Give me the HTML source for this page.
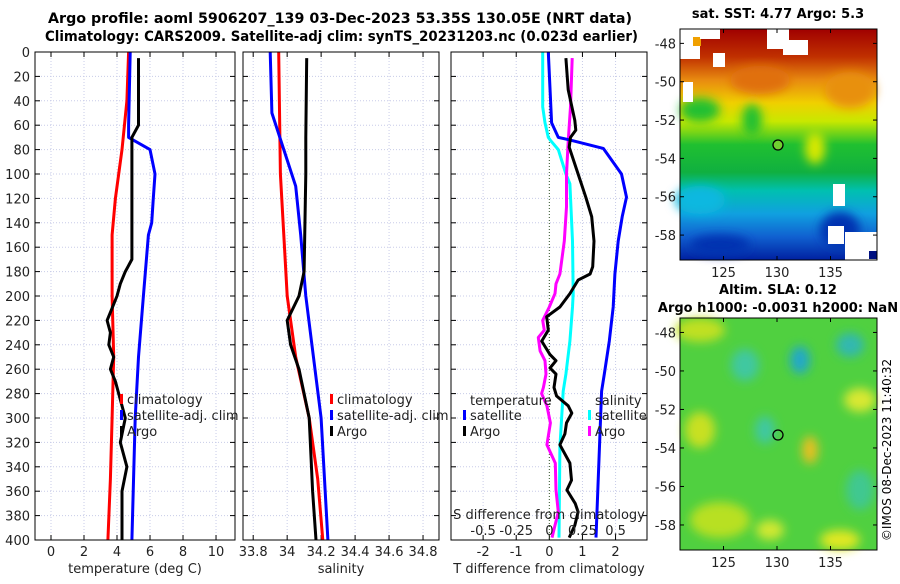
<!DOCTYPE html>
<html><head><meta charset="utf-8"><style>
body{margin:0;background:#fff;width:900px;height:580px;overflow:hidden;font-family:"DejaVu Sans","Liberation Sans",sans-serif}
svg text{font-family:"DejaVu Sans","Liberation Sans",sans-serif}
</style></head><body>
<svg id="fig" width="900" height="580" viewBox="0 0 900 580" xmlns="http://www.w3.org/2000/svg">
<defs>
<linearGradient id="sstg" x1="0" y1="0" x2="0" y2="1">
<stop offset="0" stop-color="#a00000"/><stop offset="0.12" stop-color="#c03000"/><stop offset="0.22" stop-color="#e88a10"/><stop offset="0.32" stop-color="#f0d000"/><stop offset="0.40" stop-color="#c8e800"/><stop offset="0.50" stop-color="#20c030"/><stop offset="0.62" stop-color="#10b040"/><stop offset="0.70" stop-color="#00c0b0"/><stop offset="0.80" stop-color="#10a0e0"/><stop offset="0.90" stop-color="#1060d0"/><stop offset="1" stop-color="#0020a0"/>
</linearGradient>
<filter id="bl"><feGaussianBlur stdDeviation="5"/></filter>
</defs>
<g id="titles">
<text x="48" y="23" font-size="14" font-weight="bold" textLength="584" lengthAdjust="spacingAndGlyphs">Argo profile: aoml 5906207_139 03-Dec-2023 53.35S 130.05E (NRT data)</text>
<text x="45" y="41" font-size="14" font-weight="bold" textLength="593" lengthAdjust="spacingAndGlyphs">Climatology: CARS2009. Satellite-adj clim: synTS_20231203.nc (0.023d earlier)</text>
</g>
<g id="p1"></g>
<g id="p2"></g>
<g id="p3"></g>
<g id="m1">
<text x="778" y="18" text-anchor="middle" font-size="13" font-weight="bold">sat. SST: 4.77 Argo: 5.3</text>
<rect x="680" y="29" width="197" height="231" fill="url(#sstg)"/>
<g filter="url(#bl)">
<ellipse cx="760" cy="80" rx="30" ry="14" fill="#e07010"/>
<ellipse cx="850" cy="90" rx="25" ry="18" fill="#e89010"/>
<ellipse cx="700" cy="110" rx="20" ry="12" fill="#20c030"/>
<ellipse cx="752" cy="120" rx="10" ry="16" fill="#20c030"/>
<ellipse cx="815" cy="148" rx="10" ry="16" fill="#d8e800"/>
<ellipse cx="700" cy="200" rx="25" ry="14" fill="#10b8e0"/>
<ellipse cx="840" cy="230" rx="20" ry="18" fill="#0030b0"/>
<ellipse cx="720" cy="245" rx="30" ry="10" fill="#0030b0"/>
</g>
<rect x="680" y="29" width="20" height="30" fill="#fff"/><rect x="693" y="37" width="8" height="9" fill="#f0a000"/>
<rect x="700" y="29" width="20" height="10" fill="#fff"/><rect x="767" y="29" width="22" height="20" fill="#fff"/>
<rect x="783" y="40" width="25" height="15" fill="#fff"/><rect x="713" y="53" width="12" height="14" fill="#fff"/>
<rect x="683" y="82" width="10" height="20" fill="#fff"/>
<rect x="833" y="184" width="12" height="22" fill="#fff"/><rect x="828" y="226" width="16" height="18" fill="#fff"/>
<rect x="845" y="232" width="32" height="28" fill="#fff"/><rect x="869" y="251" width="8" height="8" fill="#001080"/>
<circle cx="778" cy="145" r="5" fill="#70d030" stroke="#000" stroke-width="1.3"/>
<rect x="680" y="29" width="197" height="231" fill="none" stroke="#000" stroke-width="1"/>
</g>
<g id="m2">
<text x="778" y="294" text-anchor="middle" font-size="13" font-weight="bold">Altim. SLA: 0.12</text>
<text x="778" y="312" text-anchor="middle" font-size="13" font-weight="bold">Argo h1000: -0.0031 h2000: NaN</text>
<rect x="680" y="318" width="197" height="232" fill="#50d040"/>
<g filter="url(#bl)">
<ellipse cx="700" cy="330" rx="25" ry="12" fill="#c0e020"/>
<ellipse cx="745" cy="365" rx="14" ry="16" fill="#40c8a0"/>
<ellipse cx="800" cy="360" rx="10" ry="14" fill="#20a8c8"/>
<ellipse cx="850" cy="345" rx="14" ry="12" fill="#30b8b0"/>
<ellipse cx="860" cy="400" rx="16" ry="12" fill="#d8e830"/>
<ellipse cx="700" cy="430" rx="15" ry="18" fill="#c8e020"/>
<ellipse cx="765" cy="430" rx="10" ry="14" fill="#40c8a0"/>
<ellipse cx="810" cy="450" rx="8" ry="14" fill="#e8c020"/>
<ellipse cx="860" cy="490" rx="14" ry="20" fill="#40c890"/>
<ellipse cx="720" cy="520" rx="30" ry="18" fill="#b8e020"/>
<ellipse cx="770" cy="530" rx="14" ry="10" fill="#d0e830"/>
<ellipse cx="840" cy="540" rx="20" ry="10" fill="#e0e820"/>
</g>
<circle cx="778" cy="435" r="5" fill="none" stroke="#000" stroke-width="1.3"/>
<rect x="680" y="318" width="197" height="232" fill="none" stroke="#000" stroke-width="1"/>
</g>
<text transform="translate(891,450) rotate(-90)" text-anchor="middle" font-size="12">©IMOS 08-Dec-2023 11:40:32</text>
</svg>
<script>
const NS="http://www.w3.org/2000/svg";
// ---- data ----
const yTicks=[0,20,40,60,80,100,120,140,160,180,200,220,240,260,280,300,320,340,360,380,400];
const tTicks=[0,2,4,6,8,10];
const sTicks=[33.8,34,34.2,34.4,34.6,34.8];
const dTTicks=[-2,-1,0,1,2];
const dSTicks=[-0.5,-0.25,0,0.25,0.5];
const dSLabels=["-0.5","-0.25","0","0.25","0.5"];
const tClimDepth=[0,40,80,100,120,150,200,250,300,350,400];
const tClimVal=[4.7,4.6,4.3,4.1,3.9,3.7,3.7,3.8,3.7,3.6,3.45];
const tSatDepth=[0,60,70,80,100,120,140,150,200,250,300,400];
const tSatVal=[4.8,4.7,4.7,6.0,6.3,6.2,6.1,5.9,5.6,5.3,5.1,4.9];
const tArgoDepth=[5,60,70,100,170,180,190,200,210,220,230,240,250,260,270,280,290,300,320,340,360,380,400];
const tArgoVal=[5.3,5.3,4.9,4.9,4.9,4.5,4.2,4.0,3.7,3.4,3.6,3.5,3.8,3.6,3.9,4.1,4.3,4.5,4.2,4.6,4.3,4.3,4.3];
const sClimDepth=[0,100,150,200,250,300,350,400];
const sClimVal=[33.95,33.96,33.98,34.0,34.05,34.13,34.18,34.21];
const sSatDepth=[0,50,80,110,150,200,300,400];
const sSatVal=[33.9,33.91,33.98,34.05,34.08,34.11,34.2,34.24];
const sArgoDepth=[5,70,100,180,200,220,240,260,280,300,330,360,400];
const sArgoVal=[34.115,34.11,34.11,34.1,34.07,34.0,34.02,34.07,34.1,34.13,34.14,34.15,34.17];
const dTSatDepth=[0,58,70,72,79,100,119,135,155,182,209,237,264,278,398];
const dTSatVal=[-0.03,0.07,0.27,0.6,1.63,2.18,2.33,2.2,2.08,1.98,1.93,1.81,1.66,1.58,1.41];
const dTArgoDepth=[5,31,56,64,70,78,100,119,135,155,176,182,187,198,209,217,228,237,248,253,259,264,275,282,290,296,304,313,322,337,351,359,370,377,388,398];
const dTArgoVal=[0.5,0.57,0.77,0.8,0.64,0.6,0.87,1.1,1.28,1.35,1.31,1.23,0.87,0.62,0.32,-0.08,-0.03,-0.23,0.02,0.2,0.02,0.2,0.14,0.22,0.57,0.68,0.52,0.47,0.32,0.62,0.67,0.53,0.78,0.87,0.77,0.6];
const dSSatDepth=[0,45,58,70,72,80,100,108,155,198,209,237,264,278,324,398];
const dSSatVal=[-0.05,-0.05,-0.033,-0.008,0.005,0.068,0.125,0.155,0.175,0.18,0.175,0.155,0.125,0.105,0.08,0.073];
const dSArgoDepth=[5,45,72,100,127,155,182,190,198,209,220,228,234,245,253,264,275,280,290,304,322,337,359,377,388,398];
const dSArgoVal=[0.173,0.16,0.143,0.13,0.13,0.113,0.08,0.05,0.043,0,-0.05,-0.038,-0.083,-0.07,-0.033,-0.025,-0.045,-0.058,-0.018,0.008,-0.018,0.045,0.05,0.068,0.043,0.02];
const latTicks=[-48,-50,-52,-54,-56,-58];
const lonTicks=[125,130,135];

const Y0=52,Y1=540;
const yS=d=>Y0+(d/400)*(Y1-Y0);
function el(tag,attrs,parent,txt){const e=document.createElementNS(NS,tag);for(const k in attrs)e.setAttribute(k,attrs[k]);if(txt!==undefined)e.textContent=txt;parent.appendChild(e);return e;}
function panel(g,x0,x1,xmin,xmax,ticks,labels,name,showY){
  const xS=v=>x0+(v-xmin)/(xmax-xmin)*(x1-x0);
  for(const d of yTicks){const y=yS(d);
    if(d>0&&d<400){const l=el('line',{x1:x0,x2:x1,y1:y,y2:y,stroke:'#c8cce8','stroke-width':1,'stroke-dasharray':'1,2'},g);}
    el('line',{x1:x0,x2:x0+5,y1:y,y2:y,stroke:'#000'},g);el('line',{x1:x1-5,x2:x1,y1:y,y2:y,stroke:'#000'},g);
    if(showY){const t=el('text',{x:x0-5,y:y+5,'text-anchor':'end','font-size':13,fill:'#222'},g,String(d));}
  }
  ticks.forEach((v,i)=>{const x=xS(v);
    const l=el('line',{x1:x,x2:x,y1:Y0,y2:Y1,stroke:'#c8cce8','stroke-dasharray':'1,2'},g);
    el('line',{x1:x,x2:x,y1:Y1,y2:Y1-5,stroke:'#000'},g);el('line',{x1:x,x2:x,y1:Y0,y2:Y0+5,stroke:'#000'},g);
    const t=el('text',{x:x,y:556,'text-anchor':'middle','font-size':13,fill:'#222'},g,labels[i]);
  });
  const xl=el('text',{x:(x0+x1)/2,y:573,'text-anchor':'middle','font-size':13,fill:'#222'},g,name);
  
  return xS;
}
function line(g,xS,depths,vals,color,name,mult){
  const pts=depths.map((d,i)=>xS(vals[i]*(mult||1)).toFixed(1)+','+yS(d).toFixed(1)).join(' ');
  const p=el('polyline',{points:pts,fill:'none',stroke:color,'stroke-width':3,'stroke-linejoin':'round'},g);
  
}
function frame(g,x0,x1){const r=el('rect',{x:x0,y:Y0,width:x1-x0,height:Y1-Y0,fill:'none',stroke:'#000','stroke-width':1},g);}
function legend(g,x,y,items){items.forEach((it,i)=>{const yy=y+i*16;
  el('rect',{x:x,y:yy-8,width:3,height:10,fill:it[1]},g);
  const t=el('text',{x:x+7,y:yy+2,'font-size':13,fill:'#222'},g,it[0]);});}

const g1=document.getElementById('p1');
const x1s=panel(g1,35,235,-0.97,11.15,tTicks,tTicks.map(String),'temperature (deg C)',true);
line(g1,x1s,tClimDepth,tClimVal,'#f00','temp-climatology-line');
line(g1,x1s,tSatDepth,tSatVal,'#00f','temp-satellite-line');
line(g1,x1s,tArgoDepth,tArgoVal,'#000','temp-argo-line');
frame(g1,35,235);
legend(g1,120,402,[['climatology','#f00'],['satellite-adj. clim','#00f'],['Argo','#000']]);

const g2=document.getElementById('p2');
const x2s=panel(g2,243,439,33.74,34.894,sTicks,sTicks.map(String),'salinity',false);
line(g2,x2s,sClimDepth,sClimVal,'#f00','sal-climatology-line');
line(g2,x2s,sSatDepth,sSatVal,'#00f','sal-satellite-line');
line(g2,x2s,sArgoDepth,sArgoVal,'#000','sal-argo-line');
frame(g2,243,439);
legend(g2,330,402,[['climatology','#f00'],['satellite-adj. clim','#00f'],['Argo','#000']]);

const g3=document.getElementById('p3');
const x3s=panel(g3,451,647,-2.97,2.95,dTTicks,dTTicks.map(String),'T difference from climatology',false);
el('line',{x1:x3s(0),x2:x3s(0),y1:Y0,y2:Y1,stroke:'#3a5a2a','stroke-dasharray':'1,2'},g3);
line(g3,x3s,dSSatDepth,dSSatVal,'#0ff','sal-diff-satellite-line',4);
line(g3,x3s,dSArgoDepth,dSArgoVal,'#f0f','sal-diff-argo-line',4);
line(g3,x3s,dTSatDepth,dTSatVal,'#00f','temp-diff-satellite-line');
line(g3,x3s,dTArgoDepth,dTArgoVal,'#000','temp-diff-argo-line');
frame(g3,451,647);
{const t=el('text',{x:470,y:405,'font-size':13,fill:'#222'},g3,'temperature');
 const s=el('text',{x:595,y:405,'font-size':13,fill:'#222'},g3,'salinity');}
legend(g3,463,418,[['satellite','#00f'],['Argo','#000']]);
legend(g3,588,418,[['satellite','#0ff'],['Argo','#f0f']]);
{const t=el('text',{x:549,y:519,'text-anchor':'middle','font-size':13,fill:'#222'},g3,'S difference from climatology');}
dSTicks.forEach((v,i)=>{const t=el('text',{x:x3s(v*4),y:535,'text-anchor':'middle','font-size':13,fill:'#222'},g3,dSLabels[i]);});

function mapAxes(gid,y0,y1){const g=document.getElementById(gid);
  latTicks.forEach(v=>{const y=y0+(v-(-47.25))/(-59.3+47.25)*(y1-y0);
    el('line',{x1:680,x2:684,y1:y,y2:y,stroke:'#000'},g);el('line',{x1:873,x2:877,y1:y,y2:y,stroke:'#000'},g);
    const t=el('text',{x:676,y:y+5,'text-anchor':'end','font-size':13,fill:'#222'},g,String(v));});
  lonTicks.forEach(v=>{const x=777+(v-130)*10.7;
    el('line',{x1:x,x2:x,y1:y1,y2:y1-4,stroke:'#000'},g);el('line',{x1:x,x2:x,y1:y0,y2:y0+4,stroke:'#000'},g);
    const t=el('text',{x:x,y:y1+17,'text-anchor':'middle','font-size':13,fill:'#222'},g,String(v));});
}
mapAxes('m1',29,260);
mapAxes('m2',318,550);
</script>
</body></html>
